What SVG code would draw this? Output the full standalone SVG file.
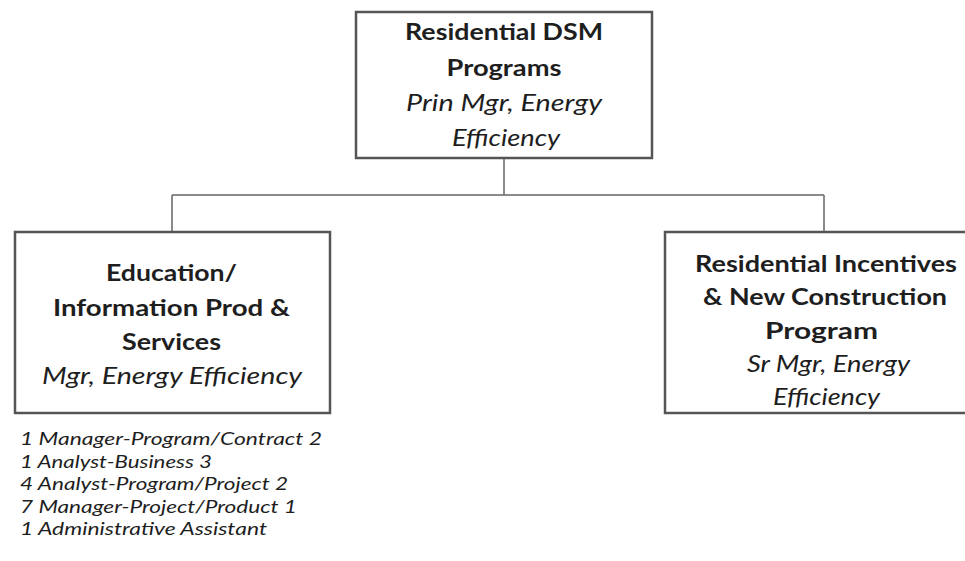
<svg xmlns="http://www.w3.org/2000/svg" width="965" height="561" viewBox="0 0 965 561">
<style>
.box{fill:#fff;stroke:#555;stroke-width:2.5}
.conn{fill:none;stroke:#666;stroke-width:1.5}
text{font-family:Lato,"Open Sans",sans-serif;fill:#1e1e1e;text-anchor:middle}
.b{font-weight:bold;font-size:22.5px}
.i{font-style:italic;font-size:22.5px}
.l{font-style:italic;font-size:17.5px;text-anchor:start}
</style>
<rect width="965" height="561" fill="#fff"/>
<g id="connectors">
<path class="conn" d="M504 158V195M172 195H824M172 195V232M824 195V232"/>
</g>
<g id="top">
<rect class="box" x="356" y="12" width="296" height="146"/>
<text class="b" x="504" y="40" textLength="198" lengthAdjust="spacingAndGlyphs">Residential DSM</text>
<text class="b" x="504" y="76" textLength="115" lengthAdjust="spacingAndGlyphs">Programs</text>
<text class="i" x="504" y="111" textLength="196" lengthAdjust="spacingAndGlyphs">Prin Mgr, Energy</text>
<text class="i" x="506" y="146" textLength="108" lengthAdjust="spacingAndGlyphs">Efficiency</text>
</g>
<g id="left">
<rect class="box" x="15" y="232" width="315" height="181"/>
<text class="b" x="171.5" y="281" textLength="131" lengthAdjust="spacingAndGlyphs">Education/</text>
<text class="b" x="171.5" y="316" textLength="237" lengthAdjust="spacingAndGlyphs">Information Prod &amp;</text>
<text class="b" x="171.5" y="350" textLength="99" lengthAdjust="spacingAndGlyphs">Services</text>
<text class="i" x="172" y="384" textLength="260" lengthAdjust="spacingAndGlyphs">Mgr, Energy Efficiency</text>
</g>
<g id="right">
<rect class="box" x="665" y="232" width="320" height="181"/>
<text class="b" x="826" y="272" textLength="262" lengthAdjust="spacingAndGlyphs">Residential Incentives</text>
<text class="b" x="825" y="305" textLength="244" lengthAdjust="spacingAndGlyphs">&amp; New Construction</text>
<text class="b" x="821.5" y="339" textLength="113" lengthAdjust="spacingAndGlyphs">Program</text>
<text class="i" x="828.5" y="372" textLength="163" lengthAdjust="spacingAndGlyphs">Sr Mgr, Energy</text>
<text class="i" x="826.5" y="405" textLength="107" lengthAdjust="spacingAndGlyphs">Efficiency</text>
</g>
<g id="staff">
<text class="l" x="20" y="445" textLength="302" lengthAdjust="spacingAndGlyphs">1 Manager-Program/Contract 2</text>
<text class="l" x="20" y="467.5" textLength="192" lengthAdjust="spacingAndGlyphs">1 Analyst-Business 3</text>
<text class="l" x="20" y="490" textLength="268" lengthAdjust="spacingAndGlyphs">4 Analyst-Program/Project 2</text>
<text class="l" x="20" y="512.5" textLength="277" lengthAdjust="spacingAndGlyphs">7 Manager-Project/Product 1</text>
<text class="l" x="20" y="535" textLength="247" lengthAdjust="spacingAndGlyphs">1 Administrative Assistant</text>
</g>
</svg>
